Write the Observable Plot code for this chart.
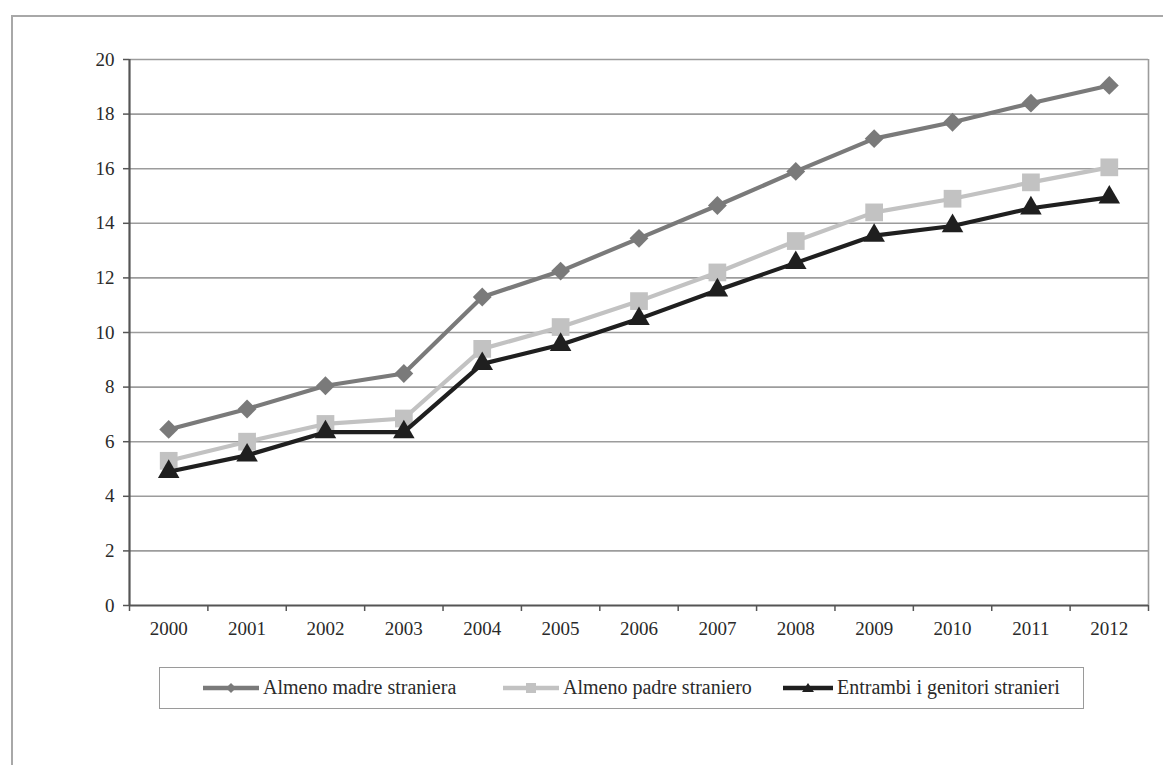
<!DOCTYPE html>
<html><head><meta charset="utf-8">
<script src="https://cdn.jsdelivr.net/npm/d3@7"></script>
<script src="https://cdn.jsdelivr.net/npm/@observablehq/plot@0.6"></script>
<style>
body{margin:0;background:#fff;font-family:"Liberation Serif","Times New Roman",serif;}
#frame{position:absolute;left:11px;top:15px;width:1200px;height:800px;border:2px solid #a8a8a8;box-sizing:border-box;}
#chart{position:absolute;left:0;top:0;}
#legend{position:absolute;left:159px;top:667px;width:925px;height:42px;border:1.5px solid #9a9a9a;box-sizing:border-box;font-size:20px;color:#2a2a2a;}
.item{position:absolute;top:0;height:39px;display:flex;align-items:center;white-space:nowrap;}
.item svg{margin-right:4px;}
</style></head>
<body>
<div id="frame"></div>
<div id="chart"></div>
<div id="legend"></div>
<script>
const years = [2000,2001,2002,2003,2004,2005,2006,2007,2008,2009,2010,2011,2012];
const madre = [6.45,7.2,8.05,8.5,11.3,12.25,13.45,14.65,15.9,17.1,17.7,18.4,19.05];
const padre = [5.3,6.0,6.65,6.85,9.4,10.2,11.15,12.2,13.35,14.4,14.9,15.5,16.05];
const entrambi = [4.9,5.5,6.35,6.35,8.85,9.55,10.5,11.55,12.55,13.55,13.9,14.55,14.95];
const seriesNames = ["Almeno madre straniera","Almeno padre straniero","Entrambi i genitori stranieri"];
const seriesColors = ["#7a7a7a","#c2c2c2","#1f1f1f"];
const seriesSymbols = ["diamond2","square","triangle"];
const seriesR = [8.5,10,8];
const yTicks = [0,2,4,6,8,10,12,14,16,18,20];

const allValues = [madre,padre,entrambi];
const data = [];
allValues.forEach((vals,i)=>vals.forEach((v,j)=>data.push({series:seriesNames[i],year:years[j],value:v,idx:i})));
const bounds = years.map(y=>y-0.5).concat([years[years.length-1]+0.5]);

const marks = [
  Plot.ruleY(yTicks.filter(t=>t>0),{stroke:"#9c9c9c",strokeWidth:1.6}),
  Plot.ruleX([bounds[bounds.length-1]],{stroke:"#9c9c9c",strokeWidth:1.6}),
  Plot.axisY({ticks:yTicks,tickSize:6,tickPadding:9,fontSize:19,stroke:"#555",strokeWidth:1.5,label:null}),
  Plot.axisX({ticks:years,tickSize:0,tickPadding:16,tickFormat:d=>String(d),fontSize:19,label:null}),
  Plot.axisX({ticks:bounds,tickSize:6,tickFormat:()=>"",stroke:"#555",strokeWidth:1.5,label:null}),
  Plot.ruleX([bounds[0]],{stroke:"#555",strokeWidth:2.2}),
  Plot.ruleY([0],{stroke:"#555",strokeWidth:2.2})
];
seriesNames.forEach((name,i)=>{
  const d = data.filter(r=>r.idx===i);
  marks.push(Plot.line(d,{x:"year",y:"value",stroke:seriesColors[i],strokeWidth:4.2}));
  marks.push(Plot.dot(d,{x:"year",y:"value",fill:seriesColors[i],stroke:"none",symbol:()=>seriesSymbols[i],r:seriesR[i]}));
});

const chart = Plot.plot({
  width:1163,height:650,
  marginTop:59,marginBottom:45,marginLeft:129,marginRight:15,
  style:{fontFamily:"'Liberation Serif','Times New Roman',serif",color:"#2a2a2a",background:"transparent",overflow:"visible"},
  x:{type:"linear",domain:[bounds[0],bounds[bounds.length-1]],label:null},
  y:{domain:[0,20],label:null},
  marks
});
document.getElementById("chart").appendChild(chart);

const lg = document.getElementById("legend");
const lefts = [43,343,623];
const sampleW = [56,56,50];
seriesNames.forEach((name,i)=>{
  const it = document.createElement("div");
  it.className="item"; it.style.left=lefts[i]+"px";
  const w = sampleW[i];
  let sym;
  if(i===0) sym=`<polygon points="${w/2-5},10 ${w/2},5 ${w/2+5},10 ${w/2},15" fill="${seriesColors[i]}"/>`;
  else if(i===1) sym=`<rect x="${w/2-5}" y="5" width="10" height="10" fill="${seriesColors[i]}"/>`;
  else sym=`<polygon points="${w/2-6},14 ${w/2},5 ${w/2+6},14" fill="${seriesColors[i]}"/>`;
  it.innerHTML=`<svg width="${w}" height="20"><line x1="0" y1="10" x2="${w}" y2="10" stroke="${seriesColors[i]}" stroke-width="4.5"/>${sym}</svg><span>${name}</span>`;
  lg.appendChild(it);
});
</script>
</body></html>
